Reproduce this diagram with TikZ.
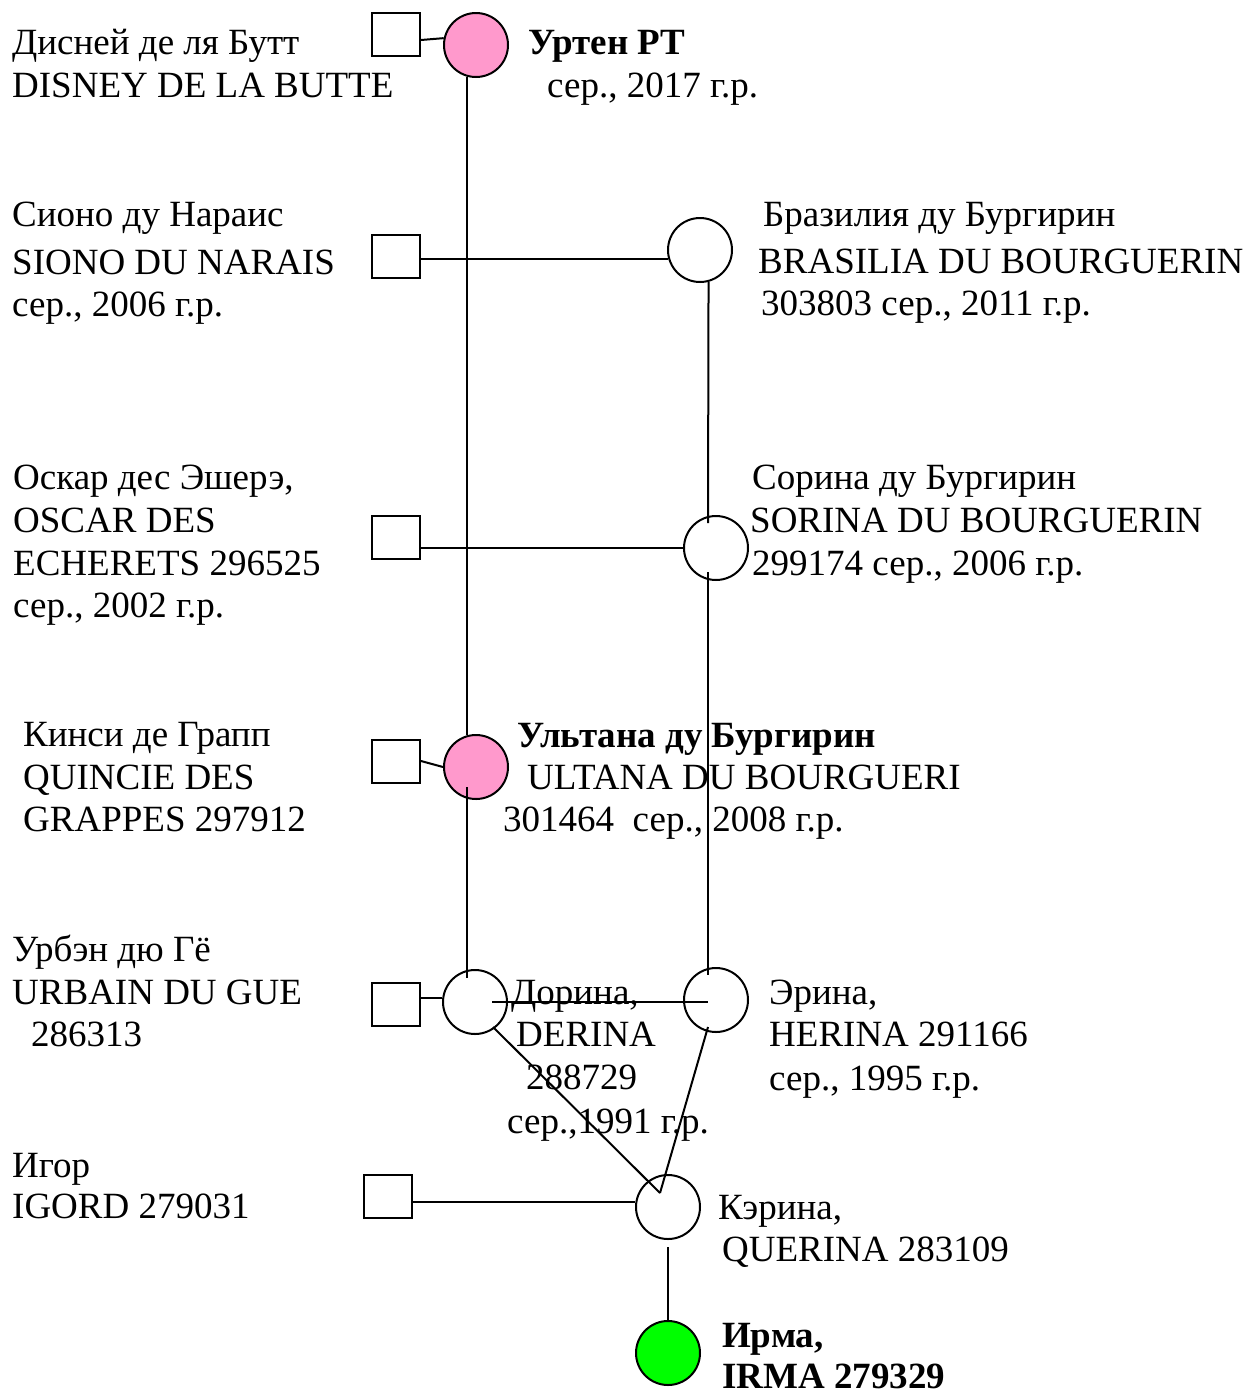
\documentclass[tikz,border=0pt]{standalone}
\usepackage{fontspec}
\setmainfont{Liberation Serif}
\usetikzlibrary{calc}
\definecolor{pinkc}{HTML}{FF99CC}
\definecolor{greenc}{HTML}{00FF00}
\begin{document}
\begin{tikzpicture}[x=1pt,y=-1pt,
  male/.style={draw,line width=2pt,rectangle,minimum width=48pt,minimum height=43pt,inner sep=0pt,fill=white},
  female/.style={draw,line width=2pt,circle,minimum size=64pt,inner sep=0pt,fill=white},
  pinkf/.style={female,fill=pinkc},
  greenf/.style={female,fill=greenc},
  lbl/.style={anchor=base west,inner sep=0pt,font=\fontsize{37}{42}\selectfont},
  blbl/.style={anchor=base west,inner sep=0pt,font=\fontsize{37}{42}\selectfont\bfseries},
  link/.style={line width=2pt}]
\useasboundingbox (0,0) rectangle (1251,1390);

% --- individuals ---
\node[male] (sq1) at (396,34.5) {};
\node[pinkf] (urten) at (476,45) {};
\node[male] (sq2) at (396,256.5) {};
\node[female] (bras) at (700,250) {};
\node[male] (sq3) at (396,537) {};
\node[female] (sorina) at (716,548) {};
\node[male] (sq4) at (396,761) {};
\node[pinkf] (ultana) at (476,767) {};
\node[male] (sq5) at (396,1004.5) {};
\node[female] (dorina) at (475,1002) {};
\node[female] (erina) at (716,1000) {};
\node[male] (sq6) at (387.5,1196.5) {};
\node[female] (kerina) at (668,1207) {};
\node[greenf] (irma) at (668,1353) {};

% --- connectors ---
\draw[link] ($(sq1.east)+(0,5.5)$) -- (urten.168);
\draw[link] (urten.254) -- (ultana.106);
\draw[link] (sq2.east |- bras.196) -- (bras.196);
\draw[link] (bras.285) -- ($(sorina.center)+(-8,-25)$);
\draw[link] (sq3.east |- sorina.west) -- (sorina.west);
\draw[link] ($(sorina.center)+(-8,24)$) -- ($(erina.center)+(-8,-25)$);
\draw[link] (sq4.east) -- (ultana.west);
\draw[link] ($(ultana.center)+(-9,20)$) -- ($(dorina.center)+(-8,-24)$);
\draw[link] (sq5.east |- dorina.173) -- (dorina.173);
\draw[link] ($(dorina.center)+(17,0)$) -- ($(erina.center)+(-8,2)$);
\draw[link] ($(dorina.center)+(18,25)$) -- ($(kerina.center)+(-8,-14)$);
\draw[link] ($(erina.center)+(-8,27)$) -- ($(kerina.center)+(-8,-14)$);
\draw[link] (sq6.east |- kerina.171) -- (kerina.171);
\draw[link] ($(kerina.center)+(0,40)$) -- (irma.north);

% --- labels left ---
\node[lbl] (t1a) at (12,54) {Дисней де ля Бутт};
\node[lbl] (t1b) at (12,97) {DISNEY DE LA BUTTE};
\node[lbl] (t2a) at (12,226) {Сионо ду Нараис};
\node[lbl] (t2b) at (12,274) {SIONO DU NARAIS};
\node[lbl] (t2c) at (12,316) {сер., 2006 г.р.};
\node[lbl] (t3a) at (13,489) {Оскар дес Эшерэ,};
\node[lbl] (t3b) at (13,532) {OSCAR DES};
\node[lbl] (t3c) at (13,575) {ECHERETS 296525};
\node[lbl] (t3d) at (13,617) {сер., 2002 г.р.};
\node[lbl] (t4a) at (23,746) {Кинси де Грапп};
\node[lbl] (t4b) at (23,789) {QUINCIE DES};
\node[lbl] (t4c) at (23,831) {GRAPPES 297912};
\node[lbl] (t5a) at (12,961) {Урбэн дю Гё};
\node[lbl] (t5b) at (12,1004) {URBAIN DU GUE};
\node[lbl] (t5c) at (31,1046) {286313};
\node[lbl] (t6a) at (12,1177) {Игор};
\node[lbl] (t6b) at (12,1218) {IGORD 279031};

% --- labels right ---
\node[blbl] (u1) at (528,54) {Уртен РТ};
\node[lbl] (u2) at (547,97) {сер., 2017 г.р.};
\node[lbl] (b1) at (763,226) {Бразилия ду Бургирин};
\node[lbl] (b2) at (758,273) {BRASILIA DU BOURGUERIN};
\node[lbl] (b3) at (761,315) {303803 сер., 2011 г.р.};
\node[lbl] (s1) at (752,489) {Сорина ду Бургирин};
\node[lbl] (s2) at (750,532) {SORINA DU BOURGUERIN};
\node[lbl] (s3) at (752,575) {299174 сер., 2006 г.р.};
\node[blbl] (l1) at (517,747) {Ультана ду Бургирин};
\node[lbl] (l2) at (527,789) {ULTANA DU BOURGUERI};
\node[lbl] (l3) at (503,831) {301464\ \ сер., 2008 г.р.};
\node[lbl] (d1) at (511,1004) {Дорина,};
\node[lbl] (d2) at (516,1046) {DERINA};
\node[lbl] (d3) at (526,1089) {288729};
\node[lbl] (d4) at (507,1133) {сер.,1991 г.р.};
\node[lbl] (e1) at (769,1004) {Эрина,};
\node[lbl] (e2) at (769,1046) {HERINA 291166};
\node[lbl] (e3) at (769,1090) {сер., 1995 г.р.};
\node[lbl] (k1) at (718,1219) {Кэрина,};
\node[lbl] (k2) at (722,1261) {QUERINA 283109};
\node[blbl] (i1) at (722,1347) {Ирма,};
\node[blbl] (i2) at (722,1388) {IRMA 279329};
\end{tikzpicture}
\end{document}
